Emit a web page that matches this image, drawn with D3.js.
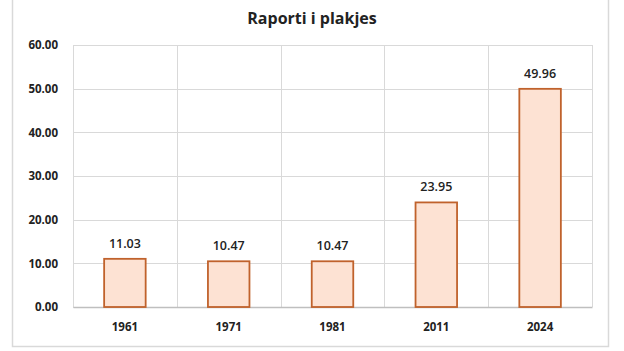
<!DOCTYPE html>
<html>
<head>
<meta charset="utf-8">
<script src="https://cdn.jsdelivr.net/npm/d3@7"></script>
<style>
  body { margin: 0; background: #fff; }
  svg { font-family: "Open Sans", Lato, sans-serif; }
</style>
</head>
<body>
<div id="chart"></div>
<script>
// data
var years = ["1961", "1971", "1981", "2011", "2024"];
var ratios = [11.03, 10.47, 10.47, 23.95, 49.96];
var yTicks = [0, 10, 20, 30, 40, 50, 60];
var chartTitle = "Raporti i plakjes";

var W = 624, H = 351;
var margin = { top: 45, right: 32, bottom: 44, left: 73 },
    width = W - margin.left - margin.right,
    height = H - margin.top - margin.bottom;

var svg = d3.select("#chart")
    .append("svg")
    .attr("width", W)
    .attr("height", H);

// outer frame (no top edge visible)
svg.append("path")
    .attr("d", "M12.5,0 V346.5 H608.5 V0")
    .attr("fill", "none")
    .attr("stroke", "#d9d9d9")
    .attr("stroke-width", 1.5);

svg.append("text")
    .attr("x", 312)
    .attr("y", 24)
    .attr("text-anchor", "middle")
    .style("font-size", "16px")
    .style("font-weight", "700")
    .style("fill", "#222")
    .text(chartTitle);

var g = svg.append("g")
    .attr("transform", "translate(" + margin.left + "," + margin.top + ")");

var x = d3.scaleBand()
    .domain(years)
    .range([0, width])
    .paddingInner(0)
    .paddingOuter(0);

var y = d3.scaleLinear()
    .domain([0, 60])
    .range([height, 0]);

// horizontal gridlines
g.append("g")
    .selectAll("line")
    .data(yTicks)
    .enter()
    .append("line")
    .attr("x1", 0)
    .attr("x2", width)
    .attr("y1", function (d) { return Math.round(y(d)) + 0.5; })
    .attr("y2", function (d) { return Math.round(y(d)) + 0.5; })
    .attr("stroke", "#d9d9d9");

// vertical gridlines at category boundaries
var bounds = years.map(function (d) { return x(d); }).concat([width]);
g.append("g")
    .selectAll("line")
    .data(bounds)
    .enter()
    .append("line")
    .attr("x1", function (d) { return Math.round(d) + 0.5; })
    .attr("x2", function (d) { return Math.round(d) + 0.5; })
    .attr("y1", 0)
    .attr("y2", height)
    .attr("stroke", "#d9d9d9");

// y axis labels
var yAxis = g.append("g")
    .call(d3.axisLeft(y).tickValues(yTicks).tickSize(0).tickPadding(15)
        .tickFormat(function (d) { return d3.format(".2f")(d); }));
yAxis.select(".domain").remove();
yAxis.selectAll("text")
    .style("font-size", "11.5px")
    .style("font-weight", "700")
    .style("fill", "#222")
    .style("font-family", "\"Open Sans\", sans-serif");

// x axis
var xAxis = g.append("g")
    .attr("transform", "translate(0," + height + ")")
    .call(d3.axisBottom(x).tickSize(0).tickPadding(16));
xAxis.select(".domain").attr("stroke", "#bfbfbf").attr("stroke-width", 1.5);
xAxis.selectAll("text")
    .style("font-size", "11.5px")
    .style("font-weight", "700")
    .style("fill", "#222")
    .style("font-family", "\"Open Sans\", sans-serif");

var barW = x.bandwidth() * 0.4;

// bars
g.append("g")
    .selectAll("rect")
    .data(ratios)
    .enter()
    .append("rect")
    .attr("x", function (d, i) { return x(years[i]) + (x.bandwidth() - barW) / 2; })
    .attr("y", function (d) { return y(d); })
    .attr("width", barW)
    .attr("height", function (d) { return height - y(d); })
    .attr("fill", "#fde2d3")
    .attr("stroke", "#c0622c")
    .attr("stroke-width", 1.8);

// value labels
g.append("g")
    .selectAll("text")
    .data(ratios)
    .enter()
    .append("text")
    .attr("x", function (d, i) { return x(years[i]) + x.bandwidth() / 2; })
    .attr("y", function (d) { return y(d) - 11; })
    .attr("text-anchor", "middle")
    .style("font-size", "12.5px")
    .style("font-weight", "600")
    .style("fill", "#222")
    .text(function (d) { return d.toFixed(2); });
</script>
</body>
</html>
